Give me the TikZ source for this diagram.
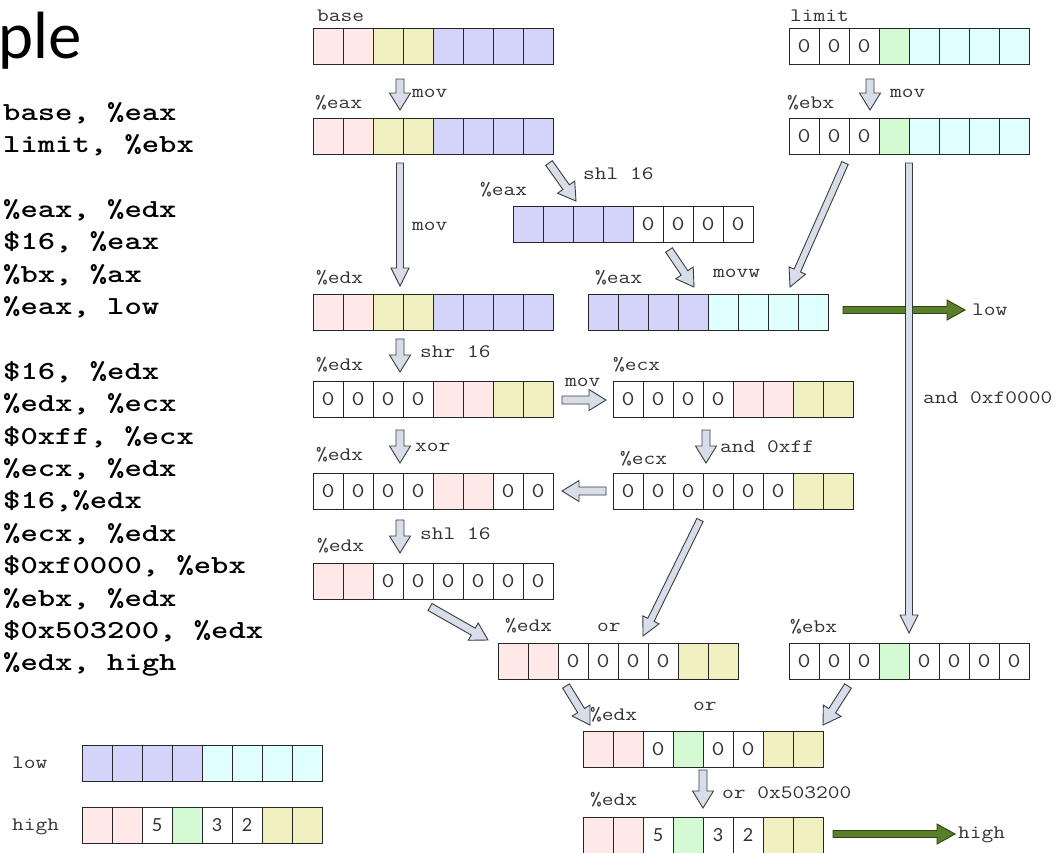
\documentclass[tikz,border=0pt]{standalone}
\usepackage{fontspec}
\usepackage{graphicx}
\usetikzlibrary{calc}
\newfontfamily\titlefont{Lato}
\newfontfamily\digitfont{Lato}

\definecolor{pinkc}{RGB}{255,232,232}
\definecolor{yelc}{RGB}{240,240,192}
\definecolor{bluec}{RGB}{212,212,250}
\definecolor{cyanc}{RGB}{224,255,255}
\definecolor{greenc}{RGB}{212,250,212}
\definecolor{arrowfill}{RGB}{215,222,234}
\definecolor{arrowline}{RGB}{60,60,60}
\definecolor{greenfill}{RGB}{90,127,43}
\definecolor{greenline}{RGB}{46,66,20}

% wide typewriter text
\newcommand\mw[1]{\scalebox{1.2}[1]{#1}}
\newcommand\bw[1]{\scalebox{1.27}[1]{#1}}
\newcommand\zr{\mw{0}}
\newcommand\sd[1]{{\digitfont\fontsize{18}{18}\selectfont #1}}

\tikzset{
  cell/.style={draw=black!85, line width=1pt, minimum width=30pt, minimum height=36pt,
    inner sep=0pt, outer sep=0pt, font=\ttfamily\fontsize{21}{21}\selectfont, text=black!80},
  regframe/.style={minimum width=240pt, minimum height=36pt, inner sep=0pt, outer sep=0pt},
  lbl/.style={anchor=base west, inner sep=0pt, font=\ttfamily\fontsize{19}{19}\selectfont, text=black!80},
  codeline/.style={anchor=base west, inner sep=0pt, font=\ttfamily\bfseries\fontsize{26}{26}\selectfont},
  blk/.style={fill=arrowfill, draw=arrowline, line width=0.9pt, line join=miter},
  grn/.style={fill=greenfill, draw=greenline, line width=0.9pt, line join=miter},
}

% register: name, left x, top y, list of colour/text
\newcommand\reg[4]{%
  \node[regframe] (#1) at (#2+120,#3+18) {};
  \foreach \c/\t [count=\i from 0] in {#4}
    \node[cell, fill=\c] (#1-\i) at (#2+15+30*\i,#3+18) {\t};
}

% block arrow: style, from, to, half shaft, half head, head length
\newcommand\blkarrow[6]{%
  \coordinate (bh) at ($(#3)!#6!(#2)$);
  \draw[#1] ($(#2)!#4!90:(#3)$) -- ($(bh)!#4!90:(#3)$) -- ($(bh)!#5!90:(#3)$)
    -- (#3) -- ($(bh)!#5!-90:(#3)$) -- ($(bh)!#4!-90:(#3)$) -- ($(#2)!#4!-90:(#3)$) -- cycle;
}
\newcommand\barrow[2]{\blkarrow{blk}{#1}{#2}{4pt}{10.5pt}{17pt}}

\begin{document}
\begin{tikzpicture}[x=1pt,y=-1pt]
\useasboundingbox (0,0) rectangle (1062,852);
\fill[white] (0,0) rectangle (1062,852);

% title fragment
\node[anchor=base west, inner sep=0pt, font=\titlefont\fontsize{63}{63}\selectfont] (title) at (-2,58) {ple};

% assembly listing
\foreach \t [count=\k from 0] in {%
  {base, \%eax},{limit, \%ebx},{},
  {\%eax, \%edx},{\$16, \%eax},{\%bx, \%ax},{\%eax, low},{},
  {\$16, \%edx},{\%edx, \%ecx},{\$0xff, \%ecx},{\%ecx, \%edx},{\$16,\%edx},
  {\%ecx, \%edx},{\$0xf0000, \%ebx},{\%ebx, \%edx},{\$0x503200, \%edx},{\%edx, high}}
  \node[codeline] (code-\k) at (3,120+32.4*\k) {\bw{\t}};

% registers
\reg{base}{313}{28}{pinkc/,pinkc/,yelc/,yelc/,bluec/,bluec/,bluec/,bluec/}
\reg{eax}{313}{118}{pinkc/,pinkc/,yelc/,yelc/,bluec/,bluec/,bluec/,bluec/}
\reg{limit}{789}{28}{white/\zr,white/\zr,white/\zr,greenc/,cyanc/,cyanc/,cyanc/,cyanc/}
\reg{ebx}{789}{118}{white/\zr,white/\zr,white/\zr,greenc/,cyanc/,cyanc/,cyanc/,cyanc/}
\reg{eaxshl}{513}{206}{bluec/,bluec/,bluec/,bluec/,white/\zr,white/\zr,white/\zr,white/\zr}
\reg{edxmov}{313}{294}{pinkc/,pinkc/,yelc/,yelc/,bluec/,bluec/,bluec/,bluec/}
\reg{eaxmovw}{588}{294}{bluec/,bluec/,bluec/,bluec/,cyanc/,cyanc/,cyanc/,cyanc/}
\reg{edxshr}{313}{381}{white/\zr,white/\zr,white/\zr,white/\zr,pinkc/,pinkc/,yelc/,yelc/}
\reg{ecxmov}{613}{381}{white/\zr,white/\zr,white/\zr,white/\zr,pinkc/,pinkc/,yelc/,yelc/}
\reg{edxxor}{313}{473}{white/\zr,white/\zr,white/\zr,white/\zr,pinkc/,pinkc/,white/\zr,white/\zr}
\reg{ecxand}{613}{473}{white/\zr,white/\zr,white/\zr,white/\zr,white/\zr,white/\zr,yelc/,yelc/}
\reg{edxshl}{313}{563}{pinkc/,pinkc/,white/\zr,white/\zr,white/\zr,white/\zr,white/\zr,white/\zr}
\reg{edxor}{498}{643}{pinkc/,pinkc/,white/\zr,white/\zr,white/\zr,white/\zr,yelc/,yelc/}
\reg{ebxand}{789}{643}{white/\zr,white/\zr,white/\zr,greenc/,white/\zr,white/\zr,white/\zr,white/\zr}
\reg{edxor2}{583}{731}{pinkc/,pinkc/,white/\zr,greenc/,white/\zr,white/\zr,yelc/,yelc/}
\reg{edxfin}{583}{817}{pinkc/,pinkc/,white/\sd{5},greenc/,white/\sd{3},white/\sd{2},yelc/,yelc/}
\reg{low}{82}{745}{bluec/,bluec/,bluec/,bluec/,cyanc/,cyanc/,cyanc/,cyanc/}
\reg{high}{82}{807}{pinkc/,pinkc/,white/\sd{5},greenc/,white/\sd{3},white/\sd{2},yelc/,yelc/}

% register labels
\node[lbl] (l-base) at (317,21) {\mw{base}};
\node[lbl] (l-eax) at (315,108) {\mw{\%eax}};
\node[lbl] (l-limit) at (790,21) {\mw{limit}};
\node[lbl] (l-ebx) at (787,108) {\mw{\%ebx}};
\node[lbl] (l-eaxshl) at (480,195) {\mw{\%eax}};
\node[lbl] (l-edxmov) at (316,283) {\mw{\%edx}};
\node[lbl] (l-eaxmovw) at (595,283) {\mw{\%eax}};
\node[lbl] (l-edxshr) at (316,370) {\mw{\%edx}};
\node[lbl] (l-ecxmov) at (613,370) {\mw{\%ecx}};
\node[lbl] (l-edxxor) at (316,460) {\mw{\%edx}};
\node[lbl] (l-ecxand) at (620,464) {\mw{\%ecx}};
\node[lbl] (l-edxshl) at (317,551) {\mw{\%edx}};
\node[lbl] (l-edxor) at (505,631) {\mw{\%edx}};
\node[lbl] (l-ebxand) at (790,632) {\mw{\%ebx}};
\node[lbl] (l-edxor2) at (590,720) {\mw{\%edx}};
\node[lbl] (l-edxfin) at (590,805) {\mw{\%edx}};
\node[lbl] (l-low) at (12,768) {\mw{low}};
\node[lbl] (l-high) at (12,830) {\mw{high}};

% operation labels
\node[lbl] (o1) at (412,97) {\mw{mov}};
\node[lbl] (o2) at (890,97) {\mw{mov}};
\node[lbl] (o3) at (583,179) {\mw{shl 16}};
\node[lbl] (o4) at (412,230) {\mw{mov}};
\node[lbl] (o5) at (713,277) {\mw{movw}};
\node[lbl] (o6) at (420,357) {\mw{shr 16}};
\node[lbl] (o7) at (565,386) {\mw{mov}};
\node[lbl] (o8) at (923,403) {\mw{and 0xf0000}};
\node[lbl] (o9) at (415,451) {\mw{xor}};
\node[lbl] (o10) at (720,452) {\mw{and 0xff}};
\node[lbl] (o11) at (420,539) {\mw{shl 16}};
\node[lbl] (o12) at (597,631) {\mw{or}};
\node[lbl] (o13) at (693,710) {\mw{or}};
\node[lbl] (o14) at (722,798) {\mw{or 0x503200}};
\node[lbl] (outlow) at (972,315) {\mw{low}};
\node[lbl] (outhigh) at (958,838) {\mw{high}};

% arrow end points
\coordinate (a1s) at (400,79);  \coordinate (a1e) at (400,110);
\coordinate (a2s) at (870,79);  \coordinate (a2e) at (870,110);
\coordinate (a3s) at (400,163); \coordinate (a3e) at (400,286);
\coordinate (a4s) at (549,163); \coordinate (a4e) at (576,201);
\coordinate (a5s) at (669,250); \coordinate (a5e) at (694,287);
\coordinate (a6s) at (845,163); \coordinate (a6e) at (790,287);
\coordinate (a7s) at (909,163); \coordinate (a7e) at (909,633);
\coordinate (a8s) at (400,339); \coordinate (a8e) at (400,372);
\coordinate (a9s) at (562,400); \coordinate (a9e) at (606,400);
\coordinate (a10s) at (400,430); \coordinate (a10e) at (400,463);
\coordinate (a11s) at (706,430); \coordinate (a11e) at (706,463);
\coordinate (a12s) at (606,491); \coordinate (a12e) at (562,491);
\coordinate (a13s) at (400,520); \coordinate (a13e) at (400,553);
\coordinate (a14s) at (430,607); \coordinate (a14e) at (488,640);
\coordinate (a15s) at (700,520); \coordinate (a15e) at (643,636);
\coordinate (a16s) at (566,686); \coordinate (a16e) at (590,725);
\coordinate (a17s) at (848,686); \coordinate (a17e) at (823,725);
\coordinate (a18s) at (703,770); \coordinate (a18e) at (703,808);
\coordinate (g1s) at (843,310); \coordinate (g1e) at (965,310);
\coordinate (g2s) at (833,834); \coordinate (g2e) at (955,834);

% results stored to memory
\blkarrow{grn}{g1s}{g1e}{3.5pt}{10pt}{18pt}
\blkarrow{grn}{g2s}{g2e}{3.5pt}{10pt}{18pt}

% data flow
\barrow{a1s}{a1e}
\barrow{a2s}{a2e}
\blkarrow{blk}{a3s}{a3e}{3.5pt}{9pt}{18pt}
\barrow{a4s}{a4e}
\barrow{a5s}{a5e}
\blkarrow{blk}{a6s}{a6e}{3.5pt}{9pt}{18pt}
\blkarrow{blk}{a7s}{a7e}{3.5pt}{9pt}{18pt}
\barrow{a8s}{a8e}
\barrow{a9s}{a9e}
\barrow{a10s}{a10e}
\barrow{a11s}{a11e}
\barrow{a12s}{a12e}
\barrow{a13s}{a13e}
\blkarrow{blk}{a14s}{a14e}{4pt}{10pt}{17pt}
\blkarrow{blk}{a15s}{a15e}{3.5pt}{9pt}{18pt}
\barrow{a16s}{a16e}
\barrow{a17s}{a17e}
\barrow{a18s}{a18e}
\end{tikzpicture}
\end{document}
